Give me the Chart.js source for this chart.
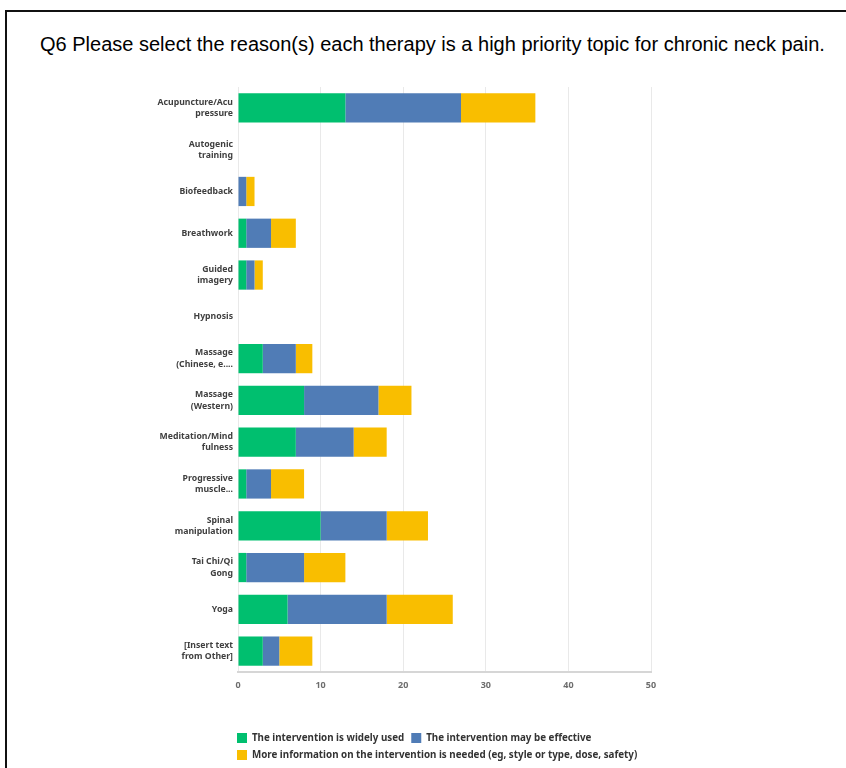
<!DOCTYPE html>
<html>
<head>
<meta charset="utf-8">
<script src="https://cdn.jsdelivr.net/npm/chart.js@4"></script>
<style>
  html, body { margin: 0; padding: 0; background: #fff; }
  body { width: 846px; height: 768px; position: relative; overflow: hidden; }
  .frame { position: absolute; left: 5px; top: 10px; width: 900px; height: 800px;
           border-left: 2px solid #111; border-top: 2px solid #111; }
  .title { position: absolute; left: 40px; top: 33px; white-space: nowrap;
           font-family: "Liberation Sans", Arial, sans-serif; font-size: 20px; color: #000; }
  #chart { position: absolute; left: 0; top: 0; }
</style>
</head>
<body>
<div class="frame"></div>
<div class="title">Q6 Please select the reason(s) each therapy is a high priority topic for chronic neck pain.</div>
<canvas id="chart" width="846" height="768"></canvas>
<script>
// Therapies (y axis), multi-line labels as shown in the picture
const therapies = [
  ['Acupuncture/Acu', 'pressure'],
  ['Autogenic', 'training'],
  'Biofeedback',
  'Breathwork',
  ['Guided', 'imagery'],
  'Hypnosis',
  ['Massage', '(Chinese, e....'],
  ['Massage', '(Western)'],
  ['Meditation/Mind', 'fulness'],
  ['Progressive', 'muscle...'],
  ['Spinal', 'manipulation'],
  ['Tai Chi/Qi', 'Gong'],
  'Yoga',
  ['[Insert text', 'from Other]']
];

// Counts per reason
const widelyUsed     = [13, 0, 0, 1, 1, 0, 3, 8, 7, 1, 10, 1, 6, 3];
const mayBeEffective = [14, 0, 1, 3, 1, 0, 4, 9, 7, 3, 8, 7, 12, 2];
const moreInfoNeeded = [9, 0, 1, 3, 1, 0, 2, 4, 4, 4, 5, 5, 8, 4];

const seriesNames = [
  'The intervention is widely used',
  'The intervention may be effective',
  'More information on the intervention is needed (eg, style or type, dose, safety)'
];

const xTicks = [0, 10, 20, 30, 40, 50];

const labelFont = { family: '"Noto Sans", Lato, sans-serif', size: 8.7, weight: 'bold' };

// nudge the legend so it lines up with the left edge of the plot
const legendShift = {
  id: 'legendShift',
  afterLayout(chart) {
    chart.legend.left -= 8;
    chart.legend.right -= 8;
  }
};

new Chart(document.getElementById('chart'), {
  type: 'bar',
  data: {
    labels: therapies,
    datasets: [
      { label: seriesNames[0], data: widelyUsed, backgroundColor: '#00BF6F' },
      { label: seriesNames[1], data: mayBeEffective, backgroundColor: '#507CB6' },
      { label: seriesNames[2], data: moreInfoNeeded, backgroundColor: '#F9BE00' }
    ]
  },
  options: {
    indexAxis: 'y',
    responsive: false,
    animation: false,
    layout: { padding: { left: 150, right: 195, top: 87, bottom: -2 } },
    datasets: { bar: { barPercentage: 0.7, categoryPercentage: 1, borderWidth: 0 } },
    scales: {
      x: {
        stacked: true,
        min: xTicks[0],
        max: xTicks[xTicks.length - 1],
        afterBuildTicks: axis => { axis.ticks = xTicks.map(v => ({ value: v })); },
        afterFit: axis => { axis.height = 54; },
        grid: { color: '#e9e9e9', drawTicks: false },
        border: { color: '#d6d6d6', width: 2 },
        ticks: { color: '#6d6d6d', padding: 8, font: { ...labelFont, size: 9 } }
      },
      y: {
        stacked: true,
        afterFit: axis => { axis.width = 88; },
        grid: { display: false, drawTicks: false },
        border: { display: false },
        ticks: { color: '#3f3f3f', padding: 5, font: { ...labelFont, lineHeight: 1.3 } }
      }
    },
    plugins: {
      tooltip: { enabled: false },
      legend: {
        position: 'bottom',
        align: 'start',
        fullSize: false,
        labels: {
          boxWidth: 10,
          boxHeight: 10,
          padding: 7,
          color: '#333333',
          font: { ...labelFont, size: 9.8 }
        }
      }
    }
  },
  plugins: [legendShift]
});
</script>
</body>
</html>
